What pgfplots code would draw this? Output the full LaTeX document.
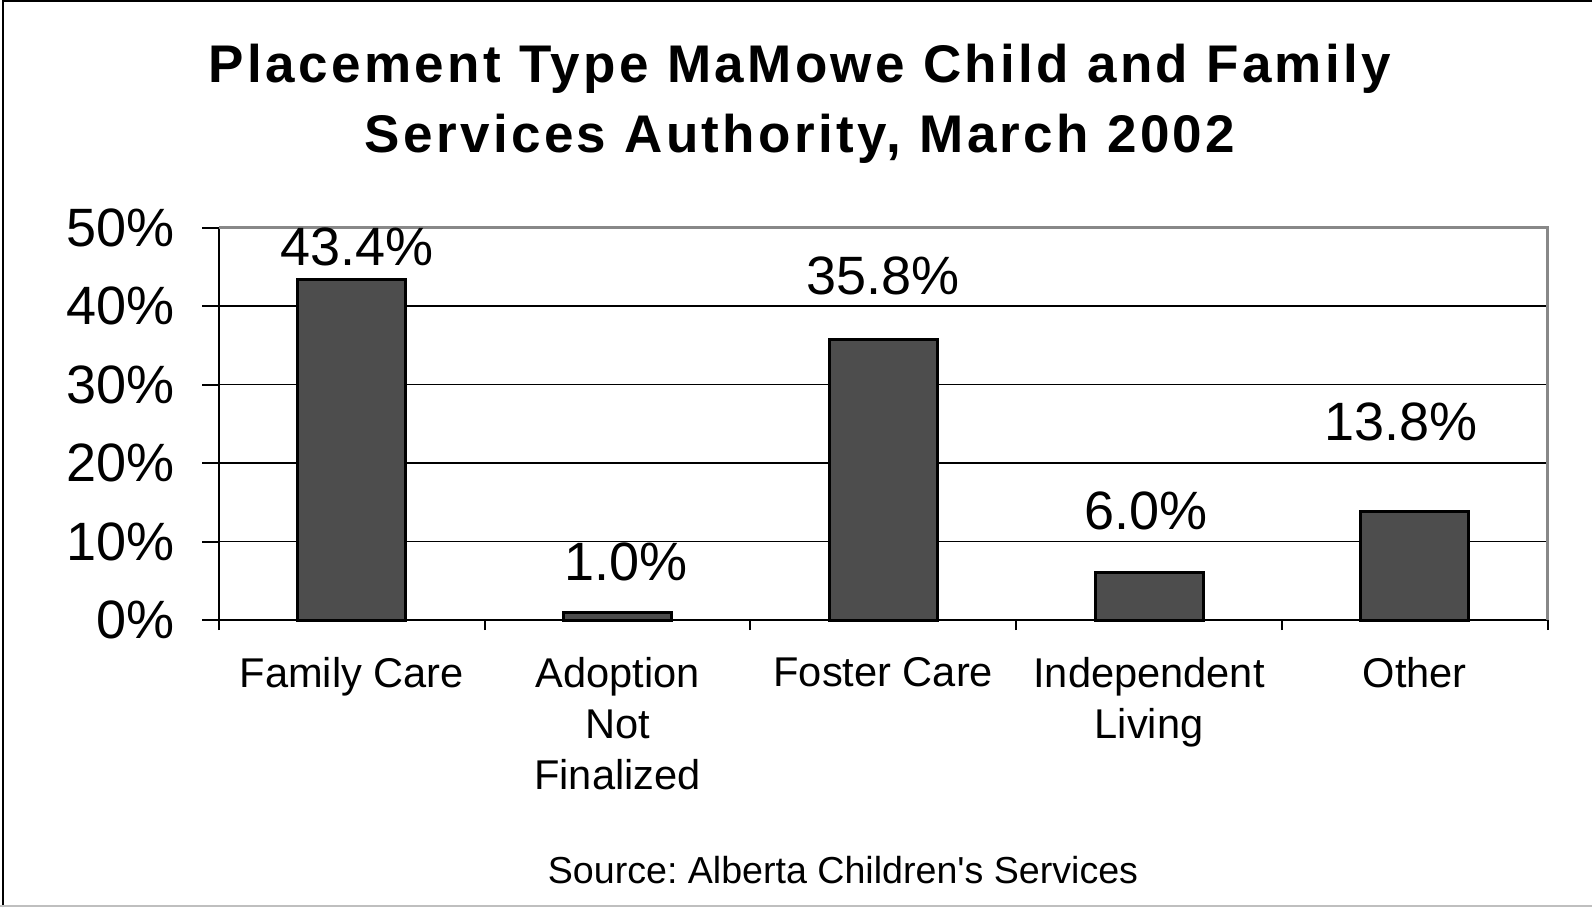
\documentclass[border=0pt]{standalone}
\usepackage{fontspec}
\setmainfont{Liberation Sans}
\usepackage{pgfplots}
\pgfplotsset{compat=1.18}
\definecolor{barfill}{RGB}{77,77,77}
\definecolor{framegray}{RGB}{136,136,136}
\pgfplotstableread{
x y
0 43.4
1 1.0
2 35.8
3 6.0
4 13.8
}\datatable
\begin{document}
\begin{tikzpicture}
\useasboundingbox (0,0) rectangle (796pt,453.5pt);
\draw[black, line width=1pt] (1.5pt,0) -- (1.5pt,453pt) -- (796pt,453pt);
\draw[black!25, line width=1pt] (0,0.7pt) -- (796pt,0.7pt);
\node[anchor=base, inner sep=0pt, font=\fontsize{26.5}{30}\selectfont\bfseries\addfontfeature{LetterSpace=6.4}] at (400pt,412.2pt) {Placement Type MaMowe Child and Family};
\node[anchor=base, inner sep=0pt, font=\fontsize{26.5}{30}\selectfont\bfseries\addfontfeature{LetterSpace=6.4}] at (400pt,377pt) {Services Authority, March 2002};
\node[anchor=base, inner sep=0pt, font=\fontsize{18.8}{22}\selectfont] at (421.5pt,11.7pt) {\frenchspacing Source: Alberta Children\textquotesingle s Services};
\begin{axis}[
  at={(109.5pt,143.5pt)}, anchor=south west,
  scale only axis, width=664.3pt, height=196.2pt,
  xmin=-0.5, xmax=4.5, ymin=0, ymax=50,
  axis x line*=bottom, axis y line*=left,
  axis line style={line width=1pt, black, -},
  ytick={0,10,...,50},
  yticklabel={\pgfmathprintnumber{\tick}\%},
  /pgf/number format/assume math mode=true,
  yticklabel style={font=\fontsize{27}{30}\selectfont, anchor=east, inner sep=0pt, xshift=-13.7pt},
  xtick={0,1,2,3,4},
  xticklabels={Family Care, Adoption\\Not\\Finalized, Foster Care, Independent\\Living, Other},
  xticklabel style={font=\fontsize{20.8}{25.4}\selectfont, align=center, anchor=north, inner sep=0pt, yshift=-10.2pt},
  minor xtick={-0.5,0.5,...,4.5},
  tick align=outside,
  major tick length=8.3pt,
  minor tick length=5pt,
  major x tick style={draw=none},
  tick style={line width=1pt, black},
  ymajorgrids, xmajorgrids=false, xminorgrids=false,
  grid style={line width=0.9pt, black},
  clip=false,
]
\addplot[ybar, bar width=54pt, fill=barfill, draw=black, line width=1.5pt] table[x=x,y=y] {\datatable};
\draw[framegray, line width=1.5pt] (rel axis cs:0,1) -- (rel axis cs:1,1) -- (rel axis cs:1,0);
\node[font=\fontsize{27}{30}\selectfont] at (axis cs:0.02,47.6) {43.4\%};
\node[font=\fontsize{27}{30}\selectfont] at (axis cs:1.03,7.4) {1.0\%};
\node[font=\fontsize{27}{30}\selectfont] at (axis cs:2.0,43.9) {35.8\%};
\node[font=\fontsize{27}{30}\selectfont] at (axis cs:2.99,13.9) {6.0\%};
\node[font=\fontsize{27}{30}\selectfont] at (axis cs:3.95,25.2) {13.8\%};
\end{axis}
\end{tikzpicture}
\end{document}
